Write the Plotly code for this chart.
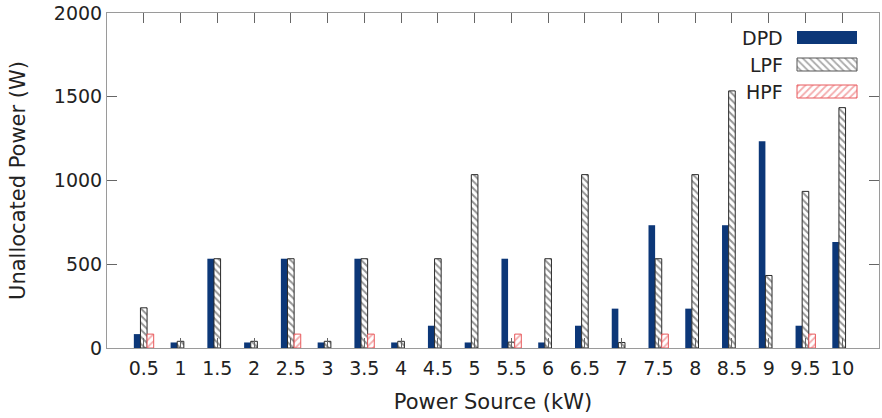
import plotly.graph_objects as go

# ---- data ----
power_source = [0.5, 1, 1.5, 2, 2.5, 3, 3.5, 4, 4.5, 5,
                5.5, 6, 6.5, 7, 7.5, 8, 8.5, 9, 9.5, 10]
tick_labels = ["0.5", "1", "1.5", "2", "2.5", "3", "3.5", "4", "4.5", "5",
               "5.5", "6", "6.5", "7", "7.5", "8", "8.5", "9", "9.5", "10"]
dpd = [83, 33, 533, 33, 533, 33, 533, 33, 133, 33,
       533, 33, 133, 235, 733, 235, 733, 1235, 133, 633]
lpf = [240, 40, 533, 40, 533, 40, 533, 40, 533, 1035,
       35, 533, 1035, 33, 533, 1035, 1535, 433, 935, 1435]
hpf = [83, 0, 0, 0, 83, 0, 83, 0, 0, 0,
       83, 0, 0, 0, 83, 0, 0, 0, 83, 0]
series_names = ["DPD", "LPF", "HPF"]


def hide_zero(vals):
    # zero-height bars are not drawn (avoid a stray outline at the baseline)
    return [v if v != 0 else None for v in vals]


# ---- styles ----
NAVY = "#0c3778"
RED = "#e8595c"
HATCH = "#2a2a2a"
FONT = "DejaVu Sans"
BW = 0.09

fig = go.Figure()
fig.add_trace(go.Bar(
    x=power_source, y=hide_zero(dpd), name=series_names[0], width=BW, offset=-1.5 * BW,
    marker=dict(color=NAVY, line=dict(width=0)), showlegend=False))
fig.add_trace(go.Bar(
    x=power_source, y=hide_zero(lpf), name=series_names[1], width=BW, offset=-0.5 * BW,
    marker=dict(color="white", line=dict(color=HATCH, width=1),
                pattern=dict(shape="\\", fgcolor=HATCH, bgcolor="white",
                             size=5, solidity=0.4)),
    showlegend=False))
fig.add_trace(go.Bar(
    x=power_source, y=hide_zero(hpf), name=series_names[2], width=BW, offset=0.5 * BW,
    marker=dict(color="white", line=dict(color=RED, width=1),
                pattern=dict(shape="/", fgcolor=RED, bgcolor="white",
                             size=5, solidity=0.35)),
    showlegend=False))

# ---- custom gnuplot-style legend (keys on a pixel-like overlay axis) ----
key_styles = [
    dict(color=NAVY, line=dict(width=0)),
    dict(color="white", line=dict(color="#555555", width=1),
         pattern=dict(shape="\\", fgcolor="#555555", bgcolor="white", size=5, solidity=0.35)),
    dict(color="white", line=dict(color=RED, width=1),
         pattern=dict(shape="/", fgcolor=RED, bgcolor="white", size=5, solidity=0.35)),
]
key_rows = [37.5, 64.5, 91.5]
for name, st, ky in zip(series_names, key_styles, key_rows):
    fig.add_trace(go.Bar(
        x=[60], y=[ky], base=[797], orientation="h", width=13,
        marker=st, xaxis="x2", yaxis="y2", showlegend=False, hoverinfo="skip"))
    fig.add_annotation(x=785, y=ky, xref="x2", yref="y2", text=name,
                       showarrow=False, xanchor="right", yanchor="middle",
                       font=dict(family=FONT, size=19, color="#222222"))

axis_common = dict(
    showline=True, linecolor="#9a9a9a", linewidth=1, mirror="ticks",
    ticks="inside", ticklen=10, tickcolor="#666666", tickwidth=1,
    showgrid=False, zeroline=False,
    tickfont=dict(family=FONT, size=19, color="#222222"),
)

fig.update_layout(
    width=882, height=418,
    margin=dict(l=107, r=3, t=13, b=70),
    paper_bgcolor="white", plot_bgcolor="white",
    barmode="overlay",
    font=dict(family=FONT, color="#222222"),
    xaxis=dict(range=[0, 10.5], tickmode="array", tickvals=power_source,
               ticktext=tick_labels, ticklabelstandoff=3,
               title=dict(text="Power Source (kW)", standoff=16,
                          font=dict(family=FONT, size=21, color="#222222")),
               **axis_common),
    yaxis=dict(range=[0, 2000], tickmode="linear", tick0=0, dtick=500,
               title=dict(text="Unallocated Power (W)", standoff=22,
                          font=dict(family=FONT, size=21, color="#222222")),
               **axis_common),
    xaxis2=dict(overlaying="x", range=[107, 879], visible=False, fixedrange=True),
    yaxis2=dict(overlaying="y", range=[348, 13], visible=False, fixedrange=True),
)

fig.write_html("out.html", config={"displayModeBar": False})

# remove the browser's default body margin so the figure sits at (0, 0)
with open("out.html", "r", encoding="utf-8") as f:
    html = f.read()
html = html.replace("<body>", '<body style="margin:0;padding:0;">', 1)
with open("out.html", "w", encoding="utf-8") as f:
    f.write(html)
